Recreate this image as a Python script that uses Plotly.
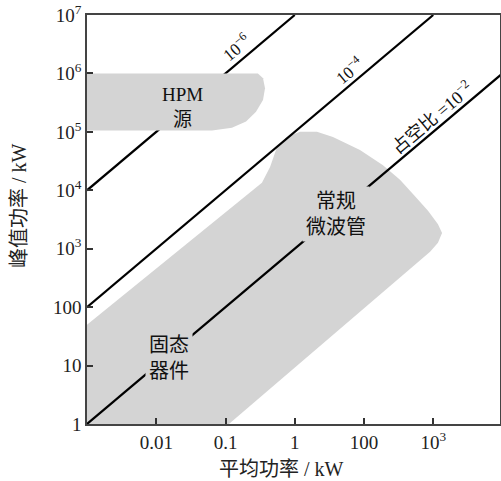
import plotly.graph_objects as go

# ---- data (kW) ----
x_tickvals = [0.01, 0.1, 1, 10, 100]
x_ticktext = ["0.01", "0.1", "1", "100", "10<sup>3</sup>"]
y_tickvals = [1, 10, 100, 1e3, 1e4, 1e5, 1e6, 1e7]
y_ticktext = ["1", "10", "100", "10<sup>3</sup>", "10<sup>4</sup>",
              "10<sup>5</sup>", "10<sup>6</sup>", "10<sup>7</sup>"]

# solid-state + conventional tube region outline
region_avg = [0.001, 0.001, 0.336, 0.44, 0.555, 0.773, 1.19, 2.09, 3.56, 8.75,
              18.8, 33.1, 54.5, 84, 117, 134, 117, 90, 0.112, 0.001]
region_peak = [1, 50, 13490, 25100, 55000, 81300, 100000, 100000, 81300, 49000,
               26900, 15100, 7940, 4470, 2630, 1860, 1260, 890, 1, 1]

# HPM source region outline
hpm_avg = [0.001, 0.294, 0.348, 0.372, 0.348, 0.276, 0.198, 0.124, 0.064, 0.001, 0.001]
hpm_peak = [1e6, 1e6, 8.3e5, 5.6e5, 3.5e5, 2.2e5, 1.5e5, 1.17e5, 1.05e5, 1.05e5, 1e6]

# duty-cycle lines (endpoints)
duty_names = ["1e-2", "1e-4", "1e-6"]
duty_avg = [[0.001, 1000], [0.001, 100], [0.001, 1]]
duty_peak = [[1, 1e6], [100, 1e7], [1e4, 1e7]]

FILL = "#d4d4d4"
SERIF = "Liberation Serif, Noto Sans CJK SC, serif"

fig = go.Figure()
fig.add_trace(go.Scatter(x=region_avg, y=region_peak, fill="toself", fillcolor=FILL,
                         mode="lines", line=dict(width=0, color=FILL), hoverinfo="skip"))
for xs, ys in zip(duty_avg, duty_peak):
    fig.add_trace(go.Scatter(x=xs, y=ys, mode="lines",
                             line=dict(color="black", width=2.2), hoverinfo="skip"))
fig.add_trace(go.Scatter(x=hpm_avg, y=hpm_peak, fill="toself", fillcolor=FILL,
                         mode="lines", line=dict(width=0, color=FILL), hoverinfo="skip"))

ann = []
def add(text, x, y, size, angle=0, bg=None, pad=1):
    d = dict(text=text, x=x, y=y, xref="x", yref="y", showarrow=False,
             textangle=angle, font=dict(family=SERIF, size=size, color="#111"),
             borderpad=pad)
    if bg:
        d["bgcolor"] = bg
    ann.append(d)

# log-axis annotation positions are in exponent units
add("HPM<br>源", -1.614, 5.43, 19)
add("固态<br>器件", -1.816, 1.13, 20, bg=FILL, pad=3)
add("常规<br>微波管", 0.60, 3.60, 20, bg=FILL, pad=3)
add("10<sup>−6</sup>", -0.848, 6.455, 17, angle=-40)
add("10<sup>−4</sup>", 0.784, 6.06, 17, angle=-40)
add("占空比 =10<sup>−2</sup>", 1.982, 5.24, 18, angle=-40)

# axis titles
ann.append(dict(text="平均功率 / kW", xref="paper", yref="paper", x=0.47, y=-0.11,
                yanchor="middle", xanchor="center", showarrow=False,
                font=dict(family=SERIF, size=20, color="#222")))
ann.append(dict(text="峰值功率 / kW", xref="paper", yref="paper", x=-0.165, y=0.535,
                yanchor="middle", xanchor="center", showarrow=False, textangle=-90,
                font=dict(family=SERIF, size=20, color="#222")))

fig.update_layout(
    width=501, height=481,
    margin=dict(l=87, r=1, t=15, b=57, autoexpand=False),
    paper_bgcolor="white", plot_bgcolor="white",
    showlegend=False,
    annotations=ann,
    font=dict(family=SERIF, size=19, color="#222"),
)
fig.update_xaxes(type="log", range=[-3, 2.964], tickvals=x_tickvals, ticktext=x_ticktext,
                 ticks="inside", ticklen=6, tickwidth=1.5, tickcolor="#333",
                 showline=True, mirror=True, linecolor="#444", linewidth=1.5,
                 showgrid=False, zeroline=False, automargin=False,
                 tickfont=dict(family=SERIF, size=19))
fig.update_yaxes(type="log", range=[0, 7], tickvals=y_tickvals, ticktext=y_ticktext,
                 ticks="inside", ticklen=6, tickwidth=1.5, tickcolor="#333",
                 showline=True, mirror=True, linecolor="#444", linewidth=1.5,
                 showgrid=False, zeroline=False, automargin=False,
                 tickfont=dict(family=SERIF, size=19))

fig.write_html("out.html", config={"displayModeBar": False},
               post_script="document.body.style.margin='0';document.body.style.overflow='hidden';")
